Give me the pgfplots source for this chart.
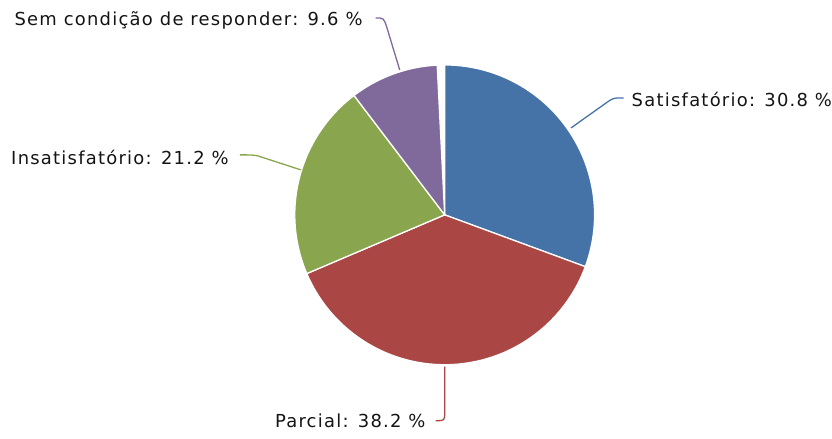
\documentclass[border=0pt]{standalone}
\usepackage{pgfplots}
\pgfplotsset{compat=1.18}
\usepackage{fontspec}
\setmainfont{DejaVu Sans}
\newfontfamily\labfont[LetterSpace=7]{DejaVu Sans}
\definecolor{cSat}{HTML}{4572A7}
\definecolor{cPar}{HTML}{AA4643}
\definecolor{cIns}{HTML}{89A54E}
\definecolor{cSem}{HTML}{80699B}
% shares (%) ; last value = unlabelled gap at the top
\def\vSat{30.8}\def\vPar{38.2}\def\vIns{21.2}\def\vSem{9.6}\def\vGap{0.8}
\pgfmathsetmacro{\tot}{\vSat+\vPar+\vIns+\vSem+\vGap}
\pgfmathsetmacro{\aA}{90}
\pgfmathsetmacro{\aB}{\aA-\vSat/\tot*360}
\pgfmathsetmacro{\aC}{\aB-\vPar/\tot*360}
\pgfmathsetmacro{\aD}{\aC-\vIns/\tot*360}
\pgfmathsetmacro{\aE}{\aD-\vSem/\tot*360}
\newcommand{\slice}[3]{\addplot[fill=#3, draw=white, line width=1.3pt, line join=round, domain=#1:#2, samples=90] ({445+150*cos(x)},{224+150*sin(x)}) -- (axis cs:445,224) -- cycle;}
\tikzset{lab/.style={font=\labfont\fontsize{18}{20}\selectfont, text=black!92, inner sep=0pt}}
\begin{document}
\begin{tikzpicture}
\begin{axis}[width=832bp, height=439bp, scale only axis, xmin=0, xmax=832, ymin=0, ymax=439,
  axis lines=none, ticks=none, clip=false]
\path (axis cs:0,0) rectangle (axis cs:832,439);
\slice{\aB}{\aA}{cSat}
\slice{\aC}{\aB}{cPar}
\slice{\aD}{\aC}{cIns}
\slice{\aE}{\aD}{cSem}
% connectors
\draw[cSat, line width=1.3pt] (axis cs:571.5,311) -- (axis cs:608,337) .. controls (axis cs:614,341) .. (axis cs:624,341);
\draw[cPar, line width=1.3pt] (axis cs:445,72) -- (axis cs:445,26) .. controls (axis cs:445,18) .. (axis cs:436,18);
\draw[cIns, line width=1.3pt] (axis cs:301,269) -- (axis cs:258,283) .. controls (axis cs:252,284) .. (axis cs:240,284);
\draw[cSem, line width=1.3pt] (axis cs:400,369) -- (axis cs:387,412) .. controls (axis cs:384,421) .. (axis cs:376,421);
% labels
\node[lab, anchor=west] at (axis cs:632,339) {Satisfatório: 30.8 \%};
\node[lab, anchor=east] at (axis cs:426,18) {Parcial: 38.2 \%};
\node[lab, anchor=east] at (axis cs:229,281) {Insatisfatório: 21.2 \%};
\node[lab, anchor=east] at (axis cs:363,419) {Sem condição de responder: 9.6 \%};
\end{axis}
\end{tikzpicture}
\end{document}
